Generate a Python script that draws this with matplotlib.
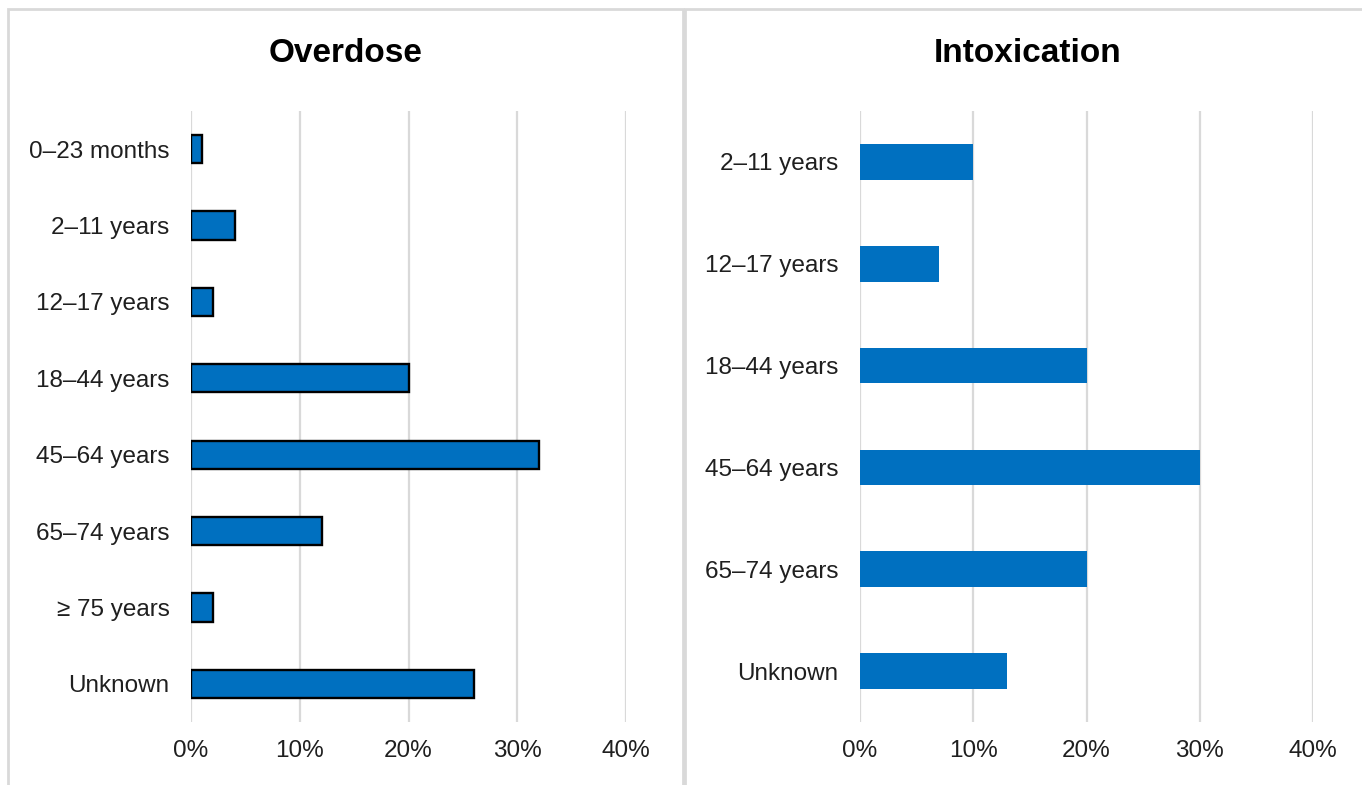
import matplotlib
matplotlib.use("Agg")
import matplotlib.pyplot as plt
from matplotlib.patches import Rectangle
from matplotlib.ticker import PercentFormatter

plt.rcParams['font.family'] = ['Liberation Sans', 'DejaVu Sans']

overdose_groups = ["0–23 months", "2–11 years", "12–17 years", "18–44 years",
                   "45–64 years", "65–74 years", "≥ 75 years", "Unknown"]
overdose_pct = [1, 4, 2, 20, 32, 12, 2, 26]

intox_groups = ["2–11 years", "12–17 years", "18–44 years",
                "45–64 years", "65–74 years", "Unknown"]
intox_pct = [10, 7, 20, 30, 20, 13]

x_ticks = [0, 10, 20, 30, 40]

BAR = "#0070C0"
GRID = "#d9d9d9"
TEXT = "#1f1f1f"

W, H = 1362, 785
fig = plt.figure(figsize=(W / 100, H / 100), dpi=100)
fig.patch.set_facecolor("white")


def px_rect(x0, y0, x1, y1):
    return [x0 / W, 1 - y1 / H, (x1 - x0) / W, (y1 - y0) / H]


# panel frames (shared divider between the two panels)
for x0, x1 in [(8, 683), (685, 1375)]:
    fig.patches.append(Rectangle((x0 / W, -0.05), (x1 - x0) / W, 1 - 9 / H + 0.05,
                                 transform=fig.transFigure, fill=False,
                                 edgecolor=GRID, linewidth=2))


def panel(rect, groups, values, edge, height):
    ax = fig.add_axes(rect)
    pos = list(range(len(groups)))
    if edge:
        ax.barh(pos, values, height=height, color=BAR, edgecolor="black",
                linewidth=1.7, zorder=3)
    else:
        ax.barh(pos, values, height=height, color=BAR, linewidth=0, zorder=3)
    ax.set_xlim(0, 40)
    ax.set_ylim(len(groups) - 0.5, -0.5)
    ax.set_xticks(x_ticks)
    ax.xaxis.set_major_formatter(PercentFormatter(decimals=0))
    ax.set_yticks(pos)
    ax.set_yticklabels(groups)
    ax.grid(axis="x", color=GRID, linewidth=1.6, zorder=0)
    for s in ax.spines.values():
        s.set_visible(False)
    ax.tick_params(axis="both", length=0, labelsize=17.5, colors=TEXT)
    ax.tick_params(axis="y", pad=15.5)
    ax.tick_params(axis="x", pad=13)
    return ax


panel(px_rect(191, 111, 626, 722), overdose_groups, overdose_pct, True, 0.37)
panel(px_rect(860, 111, 1313, 722), intox_groups, intox_pct, False, 0.35)

fig.text(346 / W, 1 - 54 / H, "Overdose", ha="center", va="center",
         fontsize=24, fontweight="bold", color="black")
fig.text(1028 / W, 1 - 54 / H, "Intoxication", ha="center", va="center",
         fontsize=24, fontweight="bold", color="black")

fig.savefig("out.png", dpi=100, facecolor="white")
